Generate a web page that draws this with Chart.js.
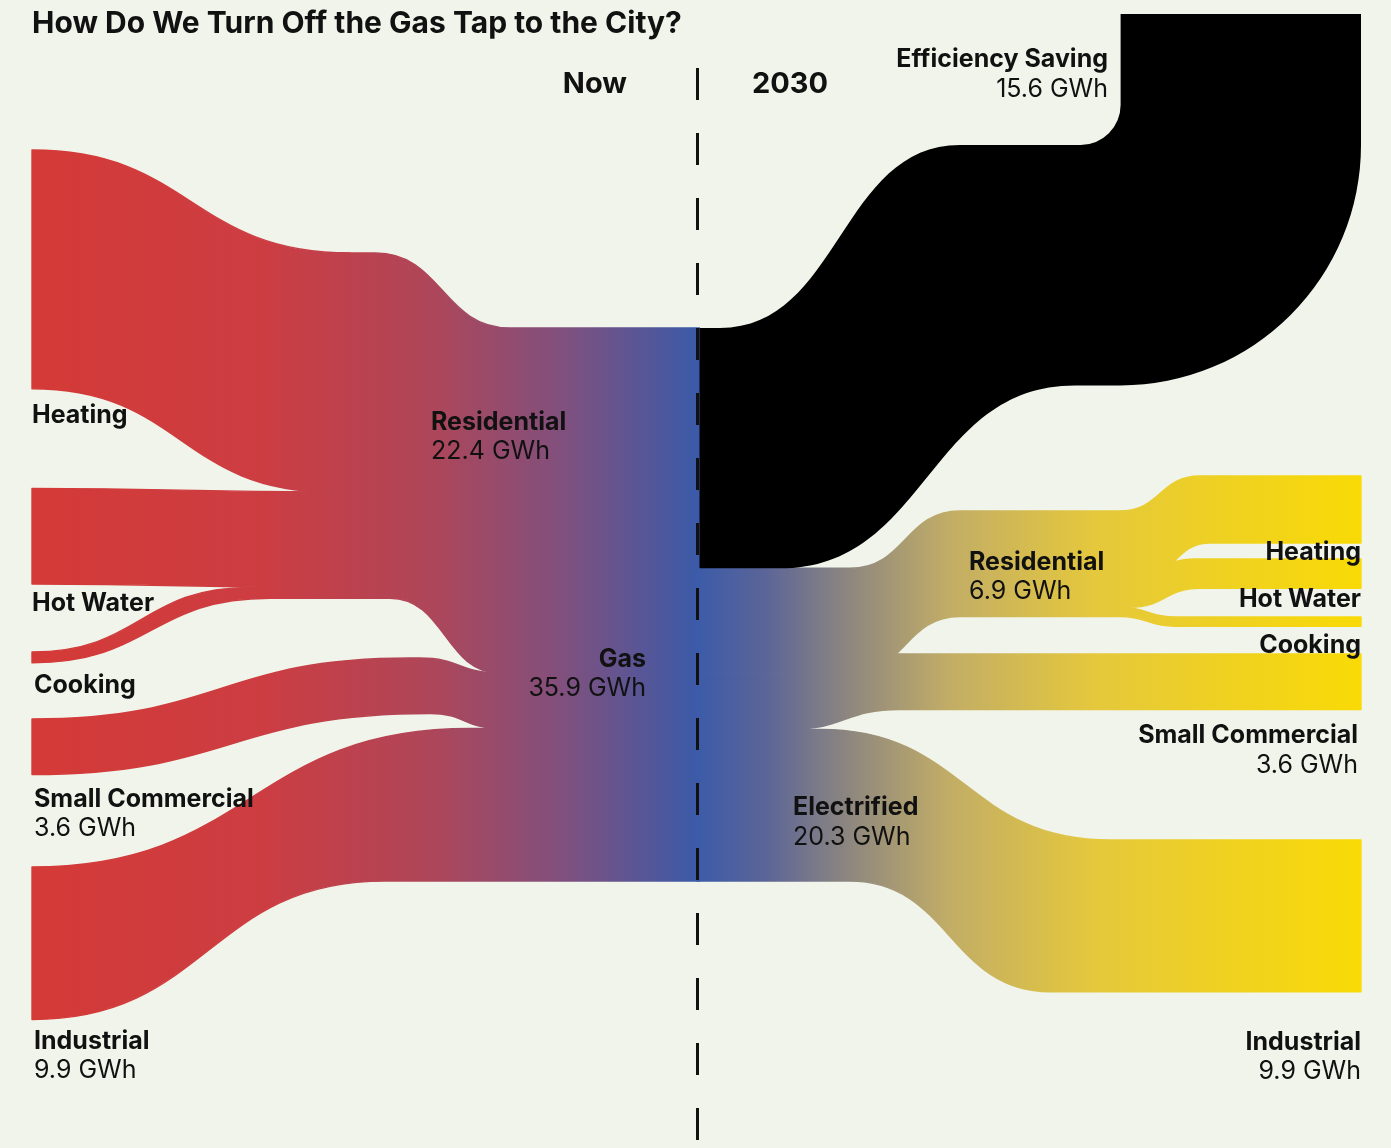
<!DOCTYPE html>
<html lang="en">
<head>
<meta charset="UTF-8">
<title>How Do We Turn Off the Gas Tap to the City?</title>
<style>
    html, body { margin: 0; padding: 0; background: #f1f4ea; }
    #wrap { position: relative; width: 1391px; height: 1148px; }
</style>
</head>
<body>
<div id="wrap"><canvas id="chart"></canvas></div>

<script src="https://cdn.jsdelivr.net/npm/chart.js@4.4.1/dist/chart.umd.min.js"></script>
<script>
    // --- data (GWh) ---
    var uses = ['Heating', 'Hot Water', 'Cooking'];
    var nowResidentialGWh = [15.5, 6.2, 0.7];      // gas used by homes today
    var futureResidentialGWh = [4.35, 1.9, 0.6];   // electrified homes, 2030
    var sectors = ['Residential', 'Small Commercial', 'Industrial'];
    var nowOtherGWh = [3.6, 9.9];                  // small commercial, industrial today
    var futureOtherGWh = [3.6, 9.85];              // small commercial, industrial 2030

    function sum(a) { return a.reduce(function (s, v) { return s + v; }, 0); }
    var nowSectorGWh = [sum(nowResidentialGWh)].concat(nowOtherGWh);
    var futureSectorGWh = [sum(futureResidentialGWh)].concat(futureOtherGWh);
    var gasGWh = sum(nowSectorGWh);
    var electrifiedGWh = sum(futureSectorGWh);
    var savingGWh = gasGWh - electrifiedGWh;

    // --- layout: x in canvas units, y in GWh measured from the top ---
    var COL = { left: 32, resNow: 330, gas: 697, resFuture: 1040, right: 1361 };
    var nowUseTop = [9.73, 31.70, 42.31];
    var nowOtherTop = [46.66, 56.26];
    var resNowTop = 16.42, commercialViaTop = 42.70, gasTop = 21.28;
    var savingBendTop = 9.41, savingEndTop = 0.91;
    var resFutureTop = 33.16;
    var futureUseTop = [30.89, 36.28, 40.04];
    var futureOtherTop = [42.44, 54.51];
    var gasEnd = COL.gas + 2.5;

    // --- links ---
    var links = [];
    var off = 0;
    nowResidentialGWh.forEach(function (v, i) {
        var spans = [
            { top: [32, 350], bot: [32, 330] },
            { top: [32, 330], bot: [32, 330] },
            { top: [32, 250], bot: [32, 270] }
        ][i];
        links.push({ v: v, x0: COL.left, y0: nowUseTop[i], x1: COL.resNow, fill: 'now',
            stages: [{ y: resNowTop + off, top: spans.top, bot: spans.bot }] });
        off += v;
    });
    links.push({ v: nowSectorGWh[0], x0: COL.resNow, y0: resNowTop, x1: gasEnd, fill: 'now',
        stages: [{ y: gasTop, top: [375, 510], bot: [390, 500] }] });
    links.push({ v: nowSectorGWh[1], x0: COL.left, y0: nowOtherTop[0], x1: gasEnd, fill: 'now',
        stages: [{ y: commercialViaTop, top: [32, 410], bot: [32, 430] },
                 { y: gasTop + nowSectorGWh[0], top: [420, 500], bot: [430, 500] }] });
    links.push({ v: nowSectorGWh[2], x0: COL.left, y0: nowOtherTop[1], x1: gasEnd, fill: 'now',
        stages: [{ y: gasTop + nowSectorGWh[0] + nowSectorGWh[1], top: [32, 470], bot: [32, 385] }] });

    var elecTop = gasTop + savingGWh;
    links.push({ v: futureSectorGWh[0], x0: COL.gas, y0: elecTop, x1: COL.resFuture, fill: 'future',
        stages: [{ y: resFutureTop, top: [850, 960], bot: [850, 960] }] });
    links.push({ v: futureSectorGWh[1], x0: COL.gas, y0: elecTop + futureSectorGWh[0], x1: COL.right, fill: 'future',
        stages: [{ y: futureOtherTop[0], top: [780, 890], bot: [790, 900] }] });
    links.push({ v: futureSectorGWh[2], x0: COL.gas, y0: elecTop + futureSectorGWh[0] + futureSectorGWh[1], x1: COL.right, fill: 'future',
        stages: [{ y: futureOtherTop[1], top: [820, 1110], bot: [850, 1050] }] });
    off = 0;
    futureResidentialGWh.forEach(function (v, i) {
        var spans = [
            { top: [1120, 1200], bot: [1140, 1210] },
            { top: [1125, 1195], bot: [1130, 1200] },
            { top: [1120, 1175], bot: [1120, 1175] }
        ][i];
        links.push({ v: v, x0: COL.resFuture, y0: resFutureTop + off, x1: COL.right, fill: 'future',
            stages: [{ y: futureUseTop[i], top: spans.top, bot: spans.bot }] });
        off += v;
    });
    var savingLink = { v: savingGWh, x0: gasEnd, y0: gasTop, fill: 'saving', bendRadius: 40,
        stages: [{ y: savingBendTop, top: [720, 960], bot: [780, 1075] }] };

    function fmt(v) { return (Math.round(v * 10) / 10).toFixed(1) + ' GWh'; }

    // labels: x in canvas units, y = first baseline in GWh units
    var labels = [
        { t: uses[0], x: 32, y: 27.45, a: 'left' },
        { t: uses[1], x: 32, y: 39.65, a: 'left' },
        { t: uses[2], x: 34, y: 44.97, a: 'left' },
        { t: sectors[1], v: nowSectorGWh[1], x: 34, y: 52.37, a: 'left' },
        { t: sectors[2], v: nowSectorGWh[2], x: 34, y: 68.07, a: 'left' },
        { t: sectors[0], v: nowSectorGWh[0], x: 431, y: 27.90, a: 'left' },
        { t: 'Gas', v: gasGWh, x: 646, y: 43.28, a: 'right' },
        { t: 'Efficiency Saving', v: savingGWh, x: 1108, y: 4.35, a: 'right' },
        { t: sectors[0], v: futureSectorGWh[0], x: 969, y: 36.99, a: 'left' },
        { t: 'Electrified', v: electrifiedGWh, x: 793, y: 52.89, a: 'left' },
        { t: uses[0], x: 1361, y: 36.34, a: 'right' },
        { t: uses[1], x: 1361, y: 39.39, a: 'right' },
        { t: uses[2], x: 1361, y: 42.38, a: 'right' },
        { t: sectors[1], v: futureSectorGWh[1], x: 1358, y: 48.22, a: 'right' },
        { t: sectors[2], v: futureSectorGWh[2], x: 1361, y: 68.14, a: 'right' }
    ];

    function buildEdge(link, offset, key, X, Y, xEndPx) {
        var cx = X(link.x0), cy = Y(link.y0 + offset);
        var start = [cx, cy], segs = [];
        link.stages.forEach(function (st) {
            var a = X(st[key][0]), b = X(st[key][1]), ty = Y(st.y + offset);
            if (a > cx) { segs.push({ p: [a, cy] }); cx = a; }
            var m = (a + b) / 2;
            segs.push({ c1: [m, cy], c2: [m, ty], p: [b, ty] });
            cx = b; cy = ty;
        });
        if (xEndPx > cx) segs.push({ p: [xEndPx, cy] });
        return { start: start, segs: segs };
    }

    function bandPath(ctx, top, bot, join) {
        ctx.beginPath();
        ctx.moveTo(top.start[0], top.start[1]);
        top.segs.forEach(function (s) {
            if (s.c1) ctx.bezierCurveTo(s.c1[0], s.c1[1], s.c2[0], s.c2[1], s.p[0], s.p[1]);
            else ctx.lineTo(s.p[0], s.p[1]);
        });
        if (join) join(ctx);
        var P = [bot.start].concat(bot.segs.map(function (s) { return s.p; }));
        ctx.lineTo(P[P.length - 1][0], P[P.length - 1][1]);
        for (var i = bot.segs.length - 1; i >= 0; i--) {
            var s = bot.segs[i];
            if (s.c1) ctx.bezierCurveTo(s.c2[0], s.c2[1], s.c1[0], s.c1[1], P[i][0], P[i][1]);
            else ctx.lineTo(P[i][0], P[i][1]);
        }
        ctx.closePath();
    }

    var sankeyPlugin = {
        id: 'sankeyBands',
        afterDatasetsDraw: function (chart) {
            var ctx = chart.ctx, xs = chart.scales.x, ys = chart.scales.y;
            var X = function (v) { return xs.getPixelForValue(v); };
            var Y = function (v) { return ys.getPixelForValue(v); };

            var nowGrad = ctx.createLinearGradient(X(COL.left), 0, X(COL.gas), 0);
            nowGrad.addColorStop(0, '#d43a37');
            nowGrad.addColorStop(0.35, '#cc3d42');
            nowGrad.addColorStop(0.6, '#ae4659');
            nowGrad.addColorStop(0.8, '#80507e');
            nowGrad.addColorStop(1, '#3b5aa8');
            var futureGrad = ctx.createLinearGradient(X(COL.gas), 0, X(COL.right), 0);
            futureGrad.addColorStop(0, '#3c5ba9');
            futureGrad.addColorStop(0.1, '#5a6498');
            futureGrad.addColorStop(0.23, '#8e877f');
            futureGrad.addColorStop(0.38, '#c2ad66');
            futureGrad.addColorStop(0.6, '#e5c83c');
            futureGrad.addColorStop(1, '#f9da06');

            ctx.save();
            ctx.lineWidth = 1.4;
            ctx.lineJoin = 'round';
            links.forEach(function (l) {
                var xe = X(l.x1);
                var top = buildEdge(l, 0, 'top', X, Y, xe);
                var bot = buildEdge(l, l.v, 'bot', X, Y, xe);
                bandPath(ctx, top, bot);
                ctx.fillStyle = ctx.strokeStyle = l.fill === 'now' ? nowGrad : futureGrad;
                ctx.fill();
                ctx.stroke();
            });

            // efficiency saving: runs right, then turns up and out of the top
            var T = Math.abs(Y(savingLink.v) - Y(0));
            var r = savingLink.bendRadius;
            var xr = X(COL.right);
            var sTop = buildEdge(savingLink, 0, 'top', X, Y, xr - T - r);
            var sBot = buildEdge(savingLink, savingLink.v, 'bot', X, Y, xr - T);
            var yT = Y(savingBendTop);
            bandPath(ctx, sTop, sBot, function (c) {
                c.arc(xr - T - r, yT - r, r, Math.PI / 2, 0, true);
                c.lineTo(xr - T, Y(savingEndTop));
                c.lineTo(xr, Y(savingEndTop));
                c.lineTo(xr, yT);
                c.arc(xr - T, yT, T, 0, Math.PI / 2, false);
            });
            ctx.fillStyle = '#000';
            ctx.fill();

            // now | 2030 divider
            ctx.beginPath();
            ctx.setLineDash([32, 33]);
            ctx.lineWidth = 3;
            ctx.strokeStyle = '#111';
            ctx.moveTo(X(COL.gas + 0.5), Y(4.41));
            ctx.lineTo(X(COL.gas + 0.5), chart.chartArea.bottom);
            ctx.stroke();
            ctx.setLineDash([]);

            // text
            ctx.fillStyle = '#111';
            ctx.textBaseline = 'alphabetic';
            ctx.textAlign = 'left';
            ctx.font = '700 30px Inter';
            ctx.fillText('How Do We Turn Off the Gas Tap to the City?', X(32), Y(2.14));
            ctx.font = '700 29px Inter';
            ctx.textAlign = 'right';
            ctx.fillText('Now', X(627), Y(6.04));
            ctx.textAlign = 'left';
            ctx.fillText('2030', X(752), Y(6.04));

            labels.forEach(function (lb) {
                ctx.textAlign = lb.a;
                var by = Y(lb.y);
                ctx.font = '700 25px Inter';
                ctx.fillText(lb.t, X(lb.x), by);
                if (lb.v !== undefined) {
                    ctx.font = '400 25px Inter';
                    ctx.fillText(fmt(lb.v), X(lb.x), by + 29.5);
                }
            });
            ctx.restore();
        }
    };

    var ctx = document.getElementById('chart').getContext('2d');
    var chart = new Chart(ctx, {
        type: 'scatter',
        data: { datasets: [{ data: [] }] },
        options: {
            responsive: true,
            maintainAspectRatio: false,
            animation: false,
            layout: { padding: 0 },
            plugins: { legend: { display: false }, tooltip: { enabled: false }, title: { display: false } },
            scales: {
                x: { type: 'linear', min: 0, max: 1391, display: false },
                y: { type: 'linear', min: 0, max: 74.5, reverse: true, display: false }
            }
        },
        plugins: [sankeyPlugin]
    });
</script>
</body>
</html>
